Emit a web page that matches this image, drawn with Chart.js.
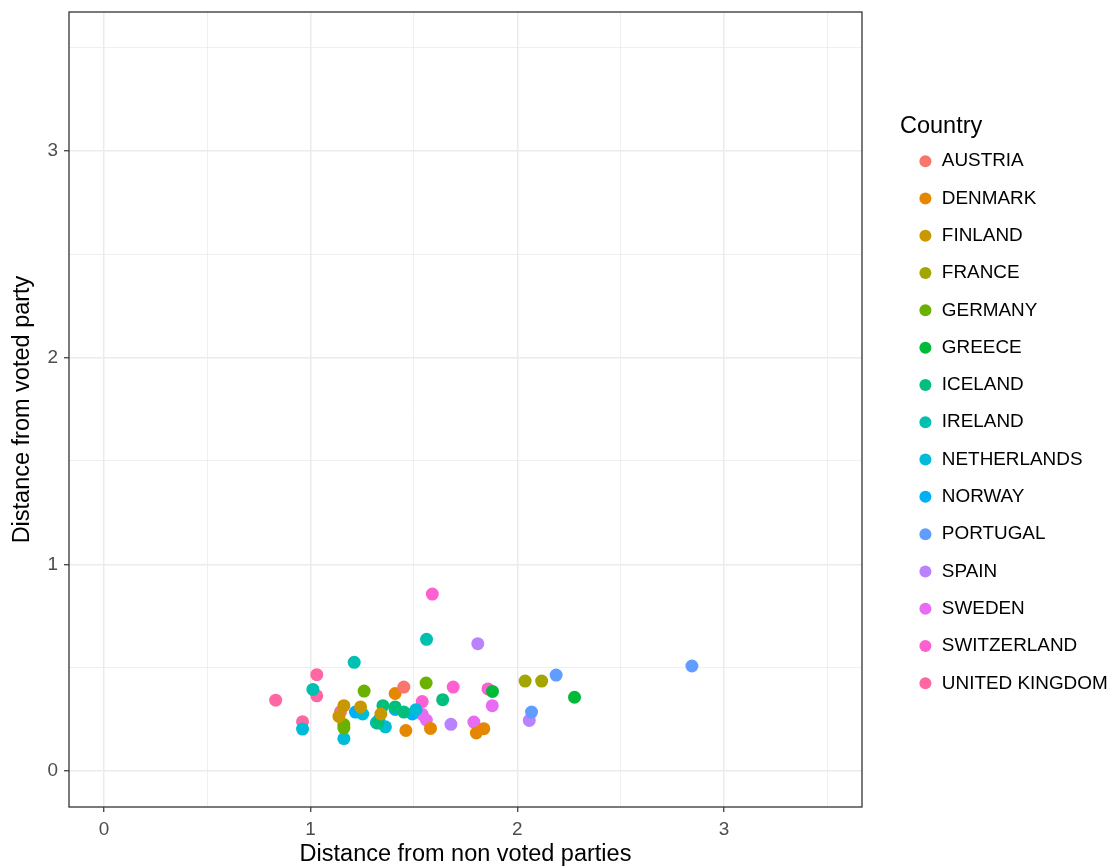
<!DOCTYPE html>
<html>
<head>
<meta charset="utf-8">
<title>Distance from voted party</title>
<script src="https://cdn.jsdelivr.net/npm/chart.js@4.4.1/dist/chart.umd.min.js"></script>
<style>
  html, body { margin: 0; padding: 0; background: #fff; }
</style>
</head>
<body>
<canvas id="scatterChart" width="1117" height="868"></canvas>
<script>
// tick values (major = labelled, minor = grid only)
const majorTicks = [0, 1, 2, 3];
const allTicks = [0, 0.5, 1, 1.5, 2, 2.5, 3, 3.5];

const countries = ["AUSTRIA", "DENMARK", "FINLAND", "FRANCE", "GERMANY", "GREECE", "ICELAND", "IRELAND",
  "NETHERLANDS", "NORWAY", "PORTUGAL", "SPAIN", "SWEDEN", "SWITZERLAND", "UNITED KINGDOM"];
const colors = ["#F8766D", "#E58700", "#C99800", "#A3A500", "#6BB100", "#00BA38", "#00BF7D", "#00C0AF",
  "#00BCD8", "#00B0F6", "#619CFF", "#B983FF", "#E76BF3", "#FD61D1", "#FF67A4"];

// x = distance from non voted parties, y = distance from voted party
const austriaX = [1.451];
const austriaY = [0.406];
const denmarkX = [1.409, 1.461, 1.580, 1.802, 1.838];
const denmarkY = [0.375, 0.196, 0.206, 0.184, 0.205];
const finlandX = [1.161, 1.242, 1.137, 1.340];
const finlandY = [0.316, 0.310, 0.264, 0.276];
const franceX = [2.038, 2.118];
const franceY = [0.435, 0.435];
const germanyX = [1.259, 1.559, 1.161, 1.161];
const germanyY = [0.387, 0.426, 0.225, 0.208];
const greeceX = [1.880, 2.277];
const greeceY = [0.385, 0.357];
const icelandX = [1.350, 1.451, 1.639, 1.326, 1.409];
const icelandY = [0.316, 0.285, 0.345, 0.232, 0.310];
const irelandX = [1.561, 1.211, 1.011];
const irelandY = [0.637, 0.526, 0.395];
const netherlandsX = [0.961, 1.161, 1.252, 1.362, 1.510, 1.318];
const netherlandsY = [0.203, 0.157, 0.276, 0.214, 0.297, 0.234];
const norwayX = [1.217, 1.330, 1.409, 1.492];
const norwayY = [0.285, 0.247, 0.298, 0.276];
const portugalX = [2.188, 2.069, 2.845];
const portugalY = [0.464, 0.285, 0.508];
const spainX = [1.809, 1.679, 2.058];
const spainY = [0.616, 0.226, 0.245];
const swedenX = [1.540, 1.560, 1.790, 1.879];
const swedenY = [0.274, 0.247, 0.237, 0.316];
const switzerlandX = [1.589, 1.690, 1.858, 1.540];
const switzerlandY = [0.856, 0.406, 0.397, 0.336];
const ukX = [1.030, 1.030, 0.831, 0.961, 1.145];
const ukY = [0.466, 0.364, 0.343, 0.239, 0.287];

const seriesX = [austriaX, denmarkX, finlandX, franceX, germanyX, greeceX, icelandX, irelandX,
  netherlandsX, norwayX, portugalX, spainX, swedenX, switzerlandX, ukX];
const seriesY = [austriaY, denmarkY, finlandY, franceY, germanyY, greeceY, icelandY, irelandY,
  netherlandsY, norwayY, portugalY, spainY, swedenY, switzerlandY, ukY];

const datasets = countries.map((name, i) => ({
  label: name,
  data: seriesX[i].map((x, j) => ({ x: x, y: seriesY[i][j] })),
  backgroundColor: colors[i],
  borderWidth: 0,
  pointRadius: 6.5,
  pointHoverRadius: 6.5,
}));

const isMajor = (v) => majorTicks.includes(v);

// full box around the panel (theme_bw style)
const panelBorder = {
  id: "panelBorder",
  afterDraw(chart) {
    const a = chart.chartArea;
    const ctx = chart.ctx;
    ctx.save();
    ctx.strokeStyle = "#333333";
    ctx.lineWidth = 1.3;
    ctx.strokeRect(a.left, a.top, a.right - a.left, a.bottom - a.top);
    ctx.restore();
  },
};

// fixed legend column on the right
const legendPlace = {
  id: "legendPlace",
  afterInit(chart) {
    const fit = chart.legend.fit;
    chart.legend.fit = function () {
      fit.call(this);
      this.width = 255;
    };
  },
  afterLayout(chart) {
    const lg = chart.legend;
    lg.left = 900;
    lg.top -= 27;
    lg.bottom -= 27;
  },
};

const axisGrid = {
  color: "#EBEBEB",
  lineWidth: (c) => (c.tick && isMajor(c.tick.value) ? 1.5 : 0.8),
  tickColor: (c) => (c.tick && isMajor(c.tick.value) ? "#333333" : "rgba(0,0,0,0)"),
  tickLength: 5,
  tickWidth: 1.2,
  drawTicks: true,
};

new Chart(document.getElementById("scatterChart"), {
  type: "scatter",
  data: { datasets: datasets },
  options: {
    responsive: false,
    animation: false,
    devicePixelRatio: 1,
    layout: { padding: { top: 12, left: 0, right: 0, bottom: 0 } },
    plugins: {
      tooltip: { enabled: false },
      legend: {
        position: "right",
        align: "center",
        title: {
          display: true,
          text: "Country",
          position: "start",
          color: "#000",
          font: { family: "Liberation Sans, Arial, sans-serif", size: 23.5, lineHeight: 1 },
          padding: { top: 0, bottom: -5 },
        },
        labels: {
          usePointStyle: true,
          pointStyle: "circle",
          boxWidth: 14,
          boxHeight: 8.5,
          padding: 18.4,
          color: "#000",
          font: { family: "Liberation Sans, Arial, sans-serif", size: 18.9 },
        },
      },
    },
    scales: {
      x: {
        type: "linear",
        min: -0.169,
        max: 3.668,
        afterBuildTicks: (axis) => {
          axis.ticks = allTicks.map((v) => ({ value: v }));
        },
        afterFit: (scale) => {
          scale.height = 61;
          scale.paddingLeft = 0;
          scale.paddingRight = 0;
        },
        grid: axisGrid,
        border: { display: false },
        ticks: {
          autoSkip: false,
          maxRotation: 0,
          padding: 6,
          color: "#4D4D4D",
          font: { family: "Liberation Sans, Arial, sans-serif", size: 18.9 },
          callback: (v) => (isMajor(v) ? String(v) : ""),
        },
        title: {
          display: true,
          text: "Distance from non voted parties",
          color: "#000",
          font: { family: "Liberation Sans, Arial, sans-serif", size: 23.5 },
          padding: { top: 0, bottom: -1 },
        },
      },
      y: {
        type: "linear",
        min: -0.174,
        max: 3.672,
        afterBuildTicks: (axis) => {
          axis.ticks = allTicks.map((v) => ({ value: v }));
        },
        afterFit: (scale) => {
          scale.width = 69;
          scale.paddingTop = 0;
          scale.paddingBottom = 0;
        },
        grid: axisGrid,
        border: { display: false },
        ticks: {
          autoSkip: false,
          padding: 6,
          color: "#4D4D4D",
          font: { family: "Liberation Sans, Arial, sans-serif", size: 18.9 },
          callback: (v) => (isMajor(v) ? String(v) : ""),
        },
        title: {
          display: true,
          text: "Distance from voted party",
          color: "#000",
          font: { family: "Liberation Sans, Arial, sans-serif", size: 23.5 },
          padding: { top: 8, bottom: 0 },
        },
      },
    },
  },
  plugins: [panelBorder, legendPlace],
});
</script>
</body>
</html>
